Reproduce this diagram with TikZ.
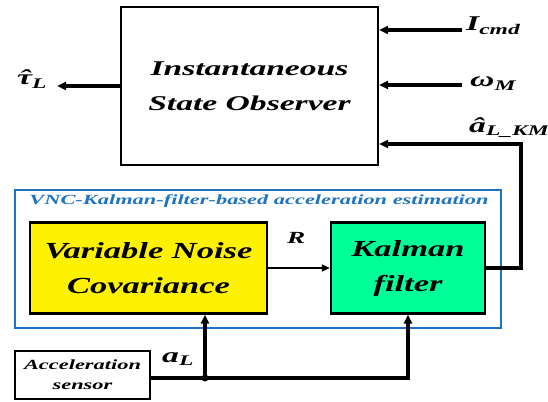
\documentclass[tikz,border=0pt]{standalone}
\usepackage{fontspec}
\setmainfont{Liberation Serif}
\newfontfamily\widefont[FakeStretch=1.6]{Liberation Serif}
\newfontfamily\blockfont[FakeStretch=1.5]{Liberation Serif}
\usepackage{amsmath}
\usepackage[svgnames]{xcolor}
\usetikzlibrary{arrows.meta}
\definecolor{vncblue}{RGB}{30,115,195}
\definecolor{kfgreen}{RGB}{0,255,153}

\begin{document}
\begin{tikzpicture}[x=1pt, y=-1pt,
        >={Triangle[length=9pt,width=8pt]},
        signal/.style={line width=3.2pt},
        thin signal/.style={line width=2pt, -{Triangle[length=8pt,width=7pt]}},
        mathlabel/.style={font=\widefont\fontsize{21}{24}\selectfont\bfseries\itshape, inner sep=0pt, anchor=base west}]
      \tikzstyle{block} = [draw, line width=2.4pt, inner sep=0pt, align=center]
      \useasboundingbox (0,0) rectangle (548,401);
      % blocks
      \node (obs) [block, minimum width=257pt, minimum height=158pt,
        font=\widefont\fontsize{21}{35}\selectfont\bfseries\itshape] at (249.5,86)
        {Instantaneous\\State Observer};
      \node (vncbox) [draw=vncblue, line width=2.5pt, minimum width=486pt, minimum height=138pt] at (258,259) {};
      \node (title) [text=vncblue, inner sep=0pt,
        font=\widefont\fontsize{14}{16}\selectfont\bfseries\itshape] at (259,201)
        {VNC-Kalman-filter-based acceleration estimation};
      \node (vnc) [block, fill=yellow, minimum width=237pt, minimum height=91pt,
        font=\blockfont\fontsize{23}{35}\selectfont\bfseries\itshape] at (148.5,268)
        {Variable Noise\\Covariance};
      \node (kf) [block, fill=kfgreen, minimum width=154pt, minimum height=91pt,
        font=\blockfont\fontsize{23}{35}\selectfont\bfseries\itshape] at (408,268)
        {Kalman\\filter};
      \node (sensor) [block, line width=2pt, minimum width=135pt, minimum height=48pt,
        font=\widefont\fontsize{14}{20}\selectfont\bfseries\itshape] at (82.5,375)
        {Acceleration\\sensor};
      % inputs and output of the observer
      \coordinate (icmd) at (462,30);
      \coordinate (omega) at (462,85);
      \coordinate (corner) at (521,144);
      \coordinate (tauend) at (57,86);
      \coordinate (split) at (205,378);
      \node (icmdlabel) [mathlabel] at (466,31) {$\text{I}_{\text{cmd}}$};
      \node (omegalabel) [mathlabel] at (470,87) {$\text{ω}_{\text{M}}$};
      \node (aKMlabel) [mathlabel] at (469,132) {$\text{â}_{\text{L\_KM}}$};
      \node (taulabel) [mathlabel] at (17,85) {$\text{\accent"02C6 τ}_{\text{L}}$};
      \draw[signal, ->] (icmd) -- (icmd -| obs.east);
      \draw[signal, ->] (omega) -- (omega -| obs.east);
      \draw[signal, ->] (obs.west) -- (tauend);
      \draw[signal, ->] (kf.east) -| (corner) -- (corner -| obs.east);
      % filter part
      \draw[thin signal] (vnc.east) -- (kf.west);
      \node (Rlabel) [mathlabel, font=\widefont\fontsize{17}{20}\selectfont\bfseries\itshape] at (287,243) {R};
      \draw[signal, ->] (split -| sensor.east) -| (kf.south);
      \draw[signal, ->] (split) -- (split |- vnc.south);
      \fill (split) circle (3.5pt);
      \node (aLlabel) [mathlabel] at (162,362) {$\text{a}_{\text{L}}$};
    \end{tikzpicture}
\end{document}
